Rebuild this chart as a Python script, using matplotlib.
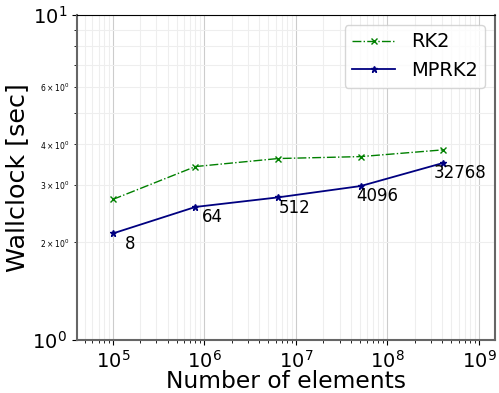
import numpy as np
import matplotlib
matplotlib.use('Agg')
import matplotlib.pyplot as plt

# data
elements = [1e5, 8e5, 6.4e6, 5.12e7, 4.096e8]
procs = ['8', '64', '512', '4096', '32768']
rk2 = [2.71, 3.42, 3.62, 3.67, 3.85]
mprk2 = [2.13, 2.57, 2.75, 2.98, 3.51]

fig = plt.figure(figsize=(4.99, 3.93), dpi=100)
ax = fig.add_axes([0.154, 0.134, 0.838, 0.828])

ax.loglog(elements, rk2, color='green', ls='-.', lw=1, marker='x', ms=5, label='RK2')
ax.loglog(elements, mprk2, color='navy', ls='-', lw=1.3, marker='*', ms=5, label='MPRK2')

for x, y, p in zip(elements, mprk2, procs):
    ax.text(x*1.53, y*0.93, p, ha='center', va='center', fontsize=12)

ax.set_xlim(4.05e4, 1.5e9)
ax.set_ylim(1, 10)
ax.grid(True, which='major', color='#cccccc', lw=0.8)
ax.grid(True, which='minor', color='#eeeeee', lw=0.8)

ax.set_xlabel('Number of elements', fontsize=16.8, labelpad=-1.5)
ax.set_ylabel('Wallclock [sec]', fontsize=18.3, labelpad=2)
ax.tick_params(which='major', labelsize=14, length=3.5)
ax.tick_params(which='minor', labelsize=5.5, length=2)

for s in ['left', 'bottom', 'right']:
    ax.spines[s].set_color('#666666')
    ax.spines[s].set_linewidth(1.5)
ax.spines['top'].set_color('black')

ax.legend(loc='upper right', fontsize=14, handlelength=2.2)

fig.savefig('out.png', dpi=100)
